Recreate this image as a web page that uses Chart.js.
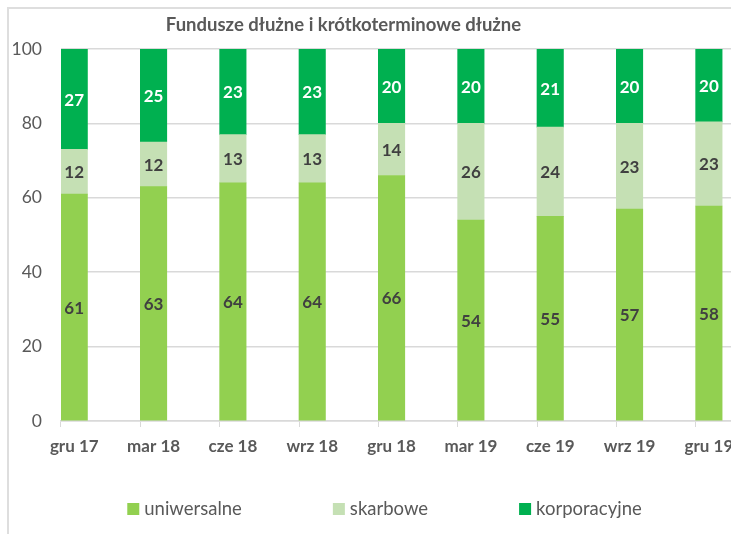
<!DOCTYPE html>
<html>
<head>
<meta charset="utf-8">
<script src="https://cdn.jsdelivr.net/npm/chart.js@4"></script>
<style>
    html, body { margin: 0; padding: 0; overflow: hidden; background: #fff; }
    #frame { position: absolute; left: 7px; top: 7px; width: 900px; height: 600px;
        border-left: 2px solid #dedede; border-top: 2px solid #dedede; }
    #wrap { position: absolute; left: 0; top: 0; width: 775px; height: 534px; }
</style>
</head>
<body>
<div id="frame"></div>
<div id="wrap"><canvas id="fundChart"></canvas></div>
<script>
const chartTitle = 'Fundusze dłużne i krótkoterminowe dłużne';
const quarters = ['gru 17', 'mar 18', 'cze 18', 'wrz 18', 'gru 18', 'mar 19', 'cze 19', 'wrz 19', 'gru 19'];
const seriesNames = ['uniwersalne', 'skarbowe', 'korporacyjne'];
const uniwersalne = [61, 63, 64, 64, 66, 54, 55, 57, 57.8];
const skarbowe = [12, 12, 13, 13, 14, 26, 24, 23, 22.6];
const korporacyjne = [27, 25, 23, 23, 20, 20, 21, 20, 19.6];
const yTicks = [0, 20, 40, 60, 80, 100];

const colours = ['#92d050', '#c5e0b4', '#00b050'];
const labelColours = ['#404040', '#404040', '#ffffff'];
const textGrey = '#595959';
const gridGrey = '#d9d9d9';
const fontFamily = 'Lato, "Open Sans", sans-serif';

const datasets = [uniwersalne, skarbowe, korporacyjne].map((values, i) => ({
    label: seriesNames[i],
    data: values,
    backgroundColor: colours[i],
    stack: 'main',
    labelColour: labelColours[i]
}));
// two empty groups so the bars sit in the left third of each category, like the excel original
datasets.push({ label: '', data: [], stack: 'gapA', spacer: true });
datasets.push({ label: '', data: [], stack: 'gapB', spacer: true });

const ctx = document.getElementById('fundChart').getContext('2d');
new Chart(ctx, {
    type: 'bar',
    data: { labels: quarters, datasets },
    options: {
        responsive: true,
        maintainAspectRatio: false,
        animation: false,
        categoryPercentage: 1,
        barPercentage: 1,
        layout: { padding: { top: 49, left: 0, right: 0, bottom: 0 } },
        scales: {
            x: {
                stacked: true,
                offset: true,
                grid: { offset: true, drawOnChartArea: false, tickLength: 6, color: gridGrey },
                border: { color: gridGrey, width: 1.5 },
                ticks: {
                    color: textGrey,
                    font: { family: fontFamily, size: 17, weight: 'bold' },
                    labelOffset: -26.4,
                    padding: 9,
                    maxRotation: 0,
                    autoSkip: false
                },
                afterFit: (scale) => { scale.height = 113; }
            },
            y: {
                stacked: true,
                min: 0,
                max: 100,
                afterBuildTicks: (scale) => { scale.ticks = yTicks.map(v => ({ value: v })); },
                grid: { color: gridGrey, lineWidth: 1.5, drawTicks: false },
                border: { display: false },
                ticks: {
                    color: textGrey,
                    font: { family: fontFamily, size: 17.5 },
                    padding: 19
                },
                afterFit: (scale) => { scale.width = 61; }
            }
        },
        plugins: {
            legend: { display: false },
            title: { display: false },
            tooltip: { enabled: false }
        }
    },
    plugins: [
        {
            // numbers in the middle of each segment
            id: 'segmentLabels',
            afterDatasetsDraw: (chart) => {
                const c = chart.ctx;
                c.save();
                c.font = `bold 17px ${fontFamily}`;
                c.textAlign = 'center';
                c.textBaseline = 'middle';
                chart.data.datasets.forEach((ds, di) => {
                    if (ds.spacer) return;
                    chart.getDatasetMeta(di).data.forEach((bar, i) => {
                        const { x, y, base } = bar.getProps(['x', 'y', 'base']);
                        const top = Math.max(y, chart.chartArea.top);
                        c.fillStyle = ds.labelColour;
                        c.fillText(Math.round(ds.data[i]), x, (top + base) / 2 + 1);
                    });
                });
                c.restore();
            }
        },
        {
            // title sits off-centre because the original is cropped on the right
            id: 'offsetTitle',
            afterDraw: (chart) => {
                const c = chart.ctx;
                c.save();
                c.font = `bold 18.5px ${fontFamily}`;
                c.fillStyle = textGrey;
                c.textAlign = 'center';
                c.textBaseline = 'alphabetic';
                c.fillText(chartTitle, 343.5, 31);
                c.restore();
            }
        },
        {
            // legend with wide, even gaps between entries
            id: 'wideLegend',
            afterDraw: (chart) => {
                const c = chart.ctx;
                const box = 12, boxGap = 5, itemGap = 91;
                const rowY = chart.chartArea.bottom + 88;
                c.save();
                c.font = `18.5px ${fontFamily}`;
                c.textBaseline = 'middle';
                const items = chart.data.datasets.filter(ds => !ds.spacer);
                const widths = items.map(ds => box + boxGap + c.measureText(ds.label).width);
                const total = widths.reduce((a, b) => a + b, 0) + itemGap * (items.length - 1);
                let x = 384.5 - total / 2;
                items.forEach((ds, i) => {
                    c.fillStyle = ds.backgroundColor;
                    c.fillRect(x, rowY - box / 2, box, box);
                    c.fillStyle = textGrey;
                    c.fillText(ds.label, x + box + boxGap, rowY);
                    x += widths[i] + itemGap;
                });
                c.restore();
            }
        }
    ]
});
</script>
</body>
</html>
